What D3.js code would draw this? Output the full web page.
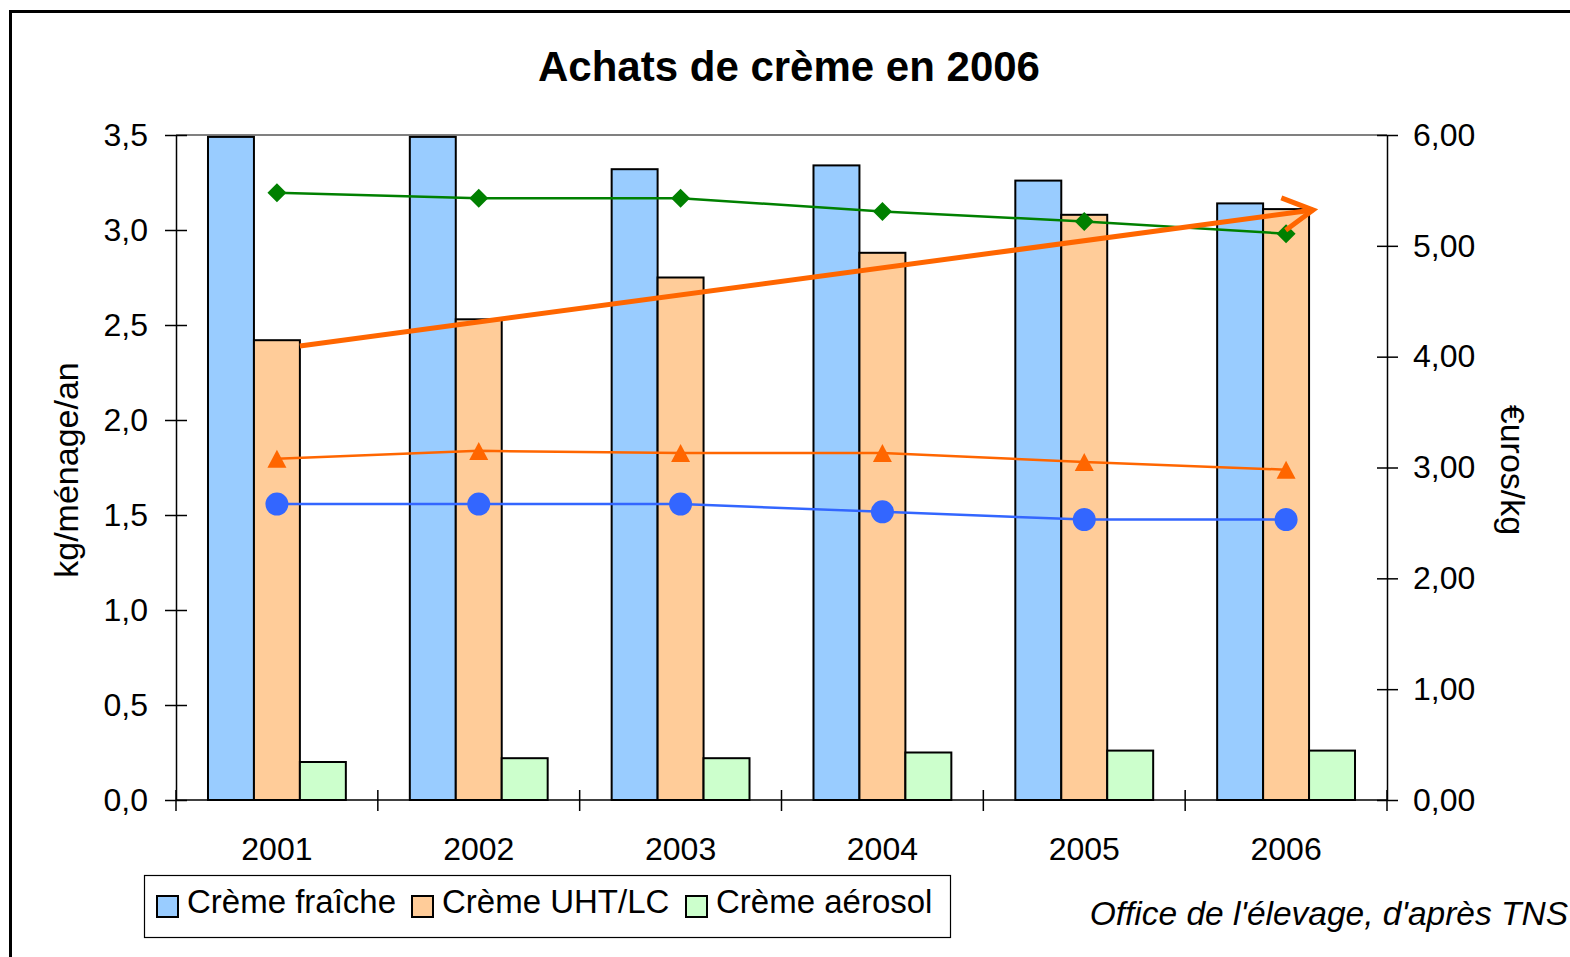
<!DOCTYPE html>
<html>
<head>
<meta charset="utf-8">
<script src="https://cdn.jsdelivr.net/npm/d3@7"></script>
<style>
	body { margin: 0; background: #fff; }
	svg { display: block; font-family: "Liberation Sans", Arial, sans-serif; }
</style>
</head>
<body>
<svg width="1570" height="957"></svg>
<script>
/*
Data
*/

const years = ['2001', '2002', '2003', '2004', '2005', '2006'];
const seriesNames = ['Crème fraîche', 'Crème UHT/LC', 'Crème aérosol'];

// kg/ménage/an (left axis, bars)
const fraicheQty = [3.49, 3.49, 3.32, 3.34, 3.26, 3.14];
const uhtQty = [2.42, 2.53, 2.75, 2.88, 3.08, 3.11];
const aerosolQty = [0.20, 0.22, 0.22, 0.25, 0.26, 0.26];

// euros/kg (right axis, lines)
const aerosolPrice = [5.48, 5.43, 5.43, 5.31, 5.22, 5.11];
const uhtPrice = [3.08, 3.15, 3.13, 3.13, 3.05, 2.98];
const fraichePrice = [2.67, 2.67, 2.67, 2.60, 2.53, 2.53];

const leftTicks = [0, 0.5, 1, 1.5, 2, 2.5, 3, 3.5];
const rightTicks = [0, 1, 2, 3, 4, 5, 6];

// trend arrow drawn over the UHT bars (left axis values)
const arrowStart = 2.39;
const arrowEnd = 3.105;

/*
Colors
*/

const barColors = ['#99CCFF', '#FFCC99', '#CCFFCC'];
const greenLine = '#008000';
const orangeLine = '#FF6600';
const blueLine = '#3366FF';

var svg = d3.select('svg');

// plot box (window.top is reserved, hence the prefix)
var plotLeft = 176, plotRight = 1387, plotTop = 135, plotBottom = 800;

var x = d3.scaleBand()
	.domain(years)
	.range([plotLeft, plotRight])
	.paddingInner(0.317)
	.paddingOuter(0.1585);

var xInner = d3.scaleBand()
	.domain(d3.range(3))
	.range([0, x.bandwidth()]);

var yLeft = d3.scaleLinear().domain([0, 3.5]).range([plotBottom, plotTop]);
var yRight = d3.scaleLinear().domain([0, 6]).range([plotBottom, plotTop]);

var fmt1 = function(d){ return d3.format('.1f')(d).replace('.', ','); };
var fmt2 = function(d){ return d3.format('.2f')(d).replace('.', ','); };

// outer frame
svg.append('rect')
	.attr('x', 10.5).attr('y', 11.5)
	.attr('width', 1600).attr('height', 1000)
	.attr('fill', 'none')
	.attr('stroke', '#000')
	.attr('stroke-width', 3);

// title
svg.append('text')
	.attr('x', 789).attr('y', 81)
	.attr('text-anchor', 'middle')
	.attr('font-size', 42)
	.attr('font-weight', 'bold')
	.text('Achats de crème en 2006');

// plot area top border
svg.append('line')
	.attr('x1', plotLeft).attr('x2', plotRight)
	.attr('y1', plotTop).attr('y2', plotTop)
	.attr('stroke', '#808080')
	.attr('stroke-width', 2);

/*
Bars
*/

var barData = [fraicheQty, uhtQty, aerosolQty];

var groups = svg.append('g')
	.selectAll('g')
	.data(years)
	.enter().append('g')
		.attr('transform', function(d){ return 'translate(' + x(d) + ',0)'; });

groups.selectAll('rect')
	.data(function(d, i){
		return barData.map(function(s, k){ return { k: k, v: s[i] }; });
	})
	.enter().append('rect')
		.attr('x', function(d){ return xInner(d.k); })
		.attr('y', function(d){ return yLeft(d.v); })
		.attr('width', xInner.bandwidth())
		.attr('height', function(d){ return plotBottom - yLeft(d.v); })
		.attr('fill', function(d){ return barColors[d.k]; })
		.attr('stroke', '#000')
		.attr('stroke-width', 2);

/*
Axes
*/

var leftAxis = svg.append('g').attr('transform', 'translate(' + plotLeft + ',0)')
	.call(d3.axisLeft(yLeft).tickValues(leftTicks).tickFormat(fmt1).tickSizeInner(11).tickSizeOuter(0).tickPadding(17));
leftAxis.selectAll('.tick line').attr('x1', 11);

var rightAxis = svg.append('g').attr('transform', 'translate(' + plotRight + ',0)')
	.call(d3.axisRight(yRight).tickValues(rightTicks).tickFormat(fmt2).tickSizeInner(11).tickSizeOuter(0).tickPadding(15));
rightAxis.selectAll('.tick line').attr('x1', -10);

var bottomAxis = svg.append('g').attr('transform', 'translate(0,' + plotBottom + ')')
	.call(d3.axisBottom(x).tickSize(0).tickPadding(37));
bottomAxis.select('.domain').attr('d', 'M' + plotLeft + ',0H' + plotRight);

// category separator ticks
var sepPositions = years.map(function(d){ return x(d) - x.step() * x.paddingInner() / 2; });
sepPositions[0] = plotLeft;
sepPositions.push(plotRight);
bottomAxis.selectAll('.sep')
	.data(sepPositions)
	.enter().append('line')
		.attr('class', 'sep')
		.attr('x1', function(d){ return d; }).attr('x2', function(d){ return d; })
		.attr('y1', -10).attr('y2', 11)
		.attr('stroke', '#000');

[leftAxis, rightAxis, bottomAxis].forEach(function(a){
	a.selectAll('text').attr('font-size', 32).attr('font-family', '"Liberation Sans", Arial, sans-serif').attr('fill', '#000');
	a.selectAll('.domain').attr('stroke', '#000').attr('stroke-width', 1.5);
	a.selectAll('line').attr('stroke', '#000').attr('stroke-width', 1.5);
});

// axis titles
svg.append('text')
	.attr('transform', 'translate(78,470) rotate(-90)')
	.attr('text-anchor', 'middle')
	.attr('font-size', 34)
	.text('kg/ménage/an');

svg.append('text')
	.attr('transform', 'translate(1501,470) rotate(90)')
	.attr('text-anchor', 'middle')
	.attr('font-size', 34)
	.text('€uros/kg');

/*
Price lines
*/

var cx = function(d, i){ return x(years[i]) + x.bandwidth() / 2; };

function drawLine(values, color){
	var line = d3.line()
		.x(function(d, i){ return cx(d, i); })
		.y(function(d){ return yRight(d); });
	svg.append('path')
		.datum(values)
		.attr('d', line)
		.attr('fill', 'none')
		.attr('stroke', color)
		.attr('stroke-width', 2.5);
}

drawLine(aerosolPrice, greenLine);
drawLine(uhtPrice, orangeLine);
drawLine(fraichePrice, blueLine);

svg.append('g').selectAll('path')
	.data(aerosolPrice)
	.enter().append('path')
		.attr('transform', function(d, i){ return 'translate(' + cx(d, i) + ',' + yRight(d) + ')'; })
		.attr('d', 'M0,-9.5L9.5,0L0,9.5L-9.5,0Z')
		.attr('fill', greenLine);

svg.append('g').selectAll('path')
	.data(uhtPrice)
	.enter().append('path')
		.attr('transform', function(d, i){ return 'translate(' + cx(d, i) + ',' + yRight(d) + ')'; })
		.attr('d', 'M0,-9L9.5,9L-9.5,9Z')
		.attr('fill', orangeLine);

svg.append('g').selectAll('circle')
	.data(fraichePrice)
	.enter().append('circle')
		.attr('cx', function(d, i){ return cx(d, i); })
		.attr('cy', function(d){ return yRight(d); })
		.attr('r', 11.5)
		.attr('fill', blueLine);

/*
Trend arrow
*/

var ax1 = x(years[0]) + xInner(2), ay1 = yLeft(arrowStart);
var ax2 = x(years[5]) + xInner(2) + 4, ay2 = yLeft(arrowEnd);
var ang = Math.atan2(ay2 - ay1, ax2 - ax1);
var arm = 34, spread = 0.5;

svg.append('line')
	.attr('x1', ax1).attr('y1', ay1)
	.attr('x2', ax2).attr('y2', ay2)
	.attr('stroke', orangeLine)
	.attr('stroke-width', 5);

svg.append('path')
	.attr('d', 'M' + (ax2 - arm * Math.cos(ang - spread)) + ',' + (ay2 - arm * Math.sin(ang - spread)) +
		'L' + ax2 + ',' + ay2 +
		'L' + (ax2 - arm * Math.cos(ang + spread)) + ',' + (ay2 - arm * Math.sin(ang + spread)))
	.attr('fill', 'none')
	.attr('stroke', orangeLine)
	.attr('stroke-width', 5);

/*
Legend
*/

var legend = svg.append('g');
legend.append('rect')
	.attr('x', 144.5).attr('y', 875.5)
	.attr('width', 806).attr('height', 62)
	.attr('fill', '#fff')
	.attr('stroke', '#000')
	.attr('stroke-width', 1.2);

var legendX = [157, 412, 686];

var items = legend.selectAll('g.item')
	.data(seriesNames)
	.enter().append('g')
		.attr('class', 'item')
		.attr('transform', function(d, i){ return 'translate(' + legendX[i] + ',0)'; });

items.append('rect')
	.attr('x', 0).attr('y', 896)
	.attr('width', 21).attr('height', 21)
	.attr('fill', function(d, i){ return barColors[i]; })
	.attr('stroke', '#000')
	.attr('stroke-width', 2);

items.append('text')
	.attr('x', 30).attr('y', 913)
	.attr('font-size', 33)
	.text(function(d){ return d; });

// source
svg.append('text')
	.attr('x', 1568).attr('y', 925)
	.attr('text-anchor', 'end')
	.attr('font-size', 33.5)
	.attr('font-style', 'italic')
	.text("Office de l'élevage, d'après TNS");
</script>
</body>
</html>
